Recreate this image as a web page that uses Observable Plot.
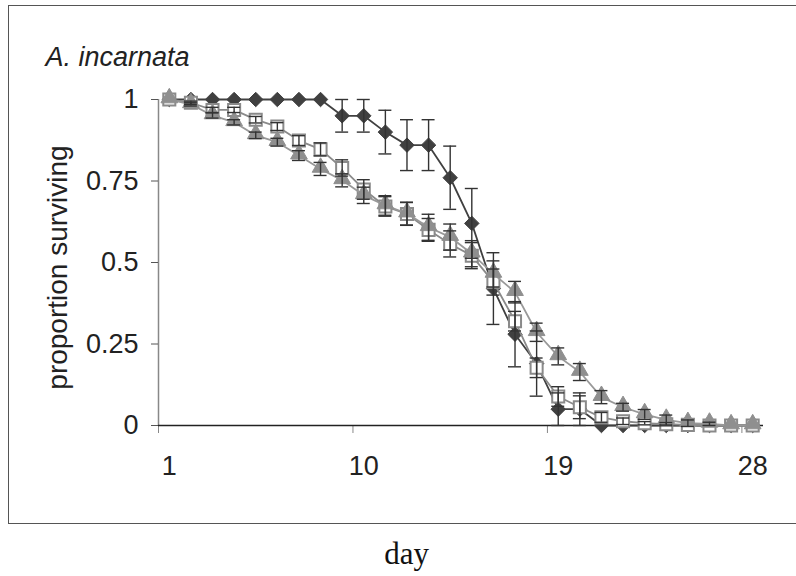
<!DOCTYPE html>
<html>
<head>
<meta charset="utf-8">
<script src="https://cdn.jsdelivr.net/npm/d3@7"></script>
<script src="https://cdn.jsdelivr.net/npm/@observablehq/plot@0.6"></script>
<style>
  html, body { margin: 0; padding: 0; background: #fff; overflow: hidden; }
  #wrap { position: relative; width: 796px; height: 576px; overflow: hidden; }
  #frame { position: absolute; left: 8px; top: 5px; width: 820px; height: 519px;
           border: 1.5px solid #555; border-right: none; box-sizing: border-box; }
  #chart { position: absolute; left: 0; top: 0; }
</style>
</head>
<body>
<div id="wrap"><div id="frame"></div><div id="chart"></div></div>
<script>
// ---- data ----
const days = [1,2,3,4,5,6,7,8,9,10,11,12,13,14,15,16,17,18,19,20,21,22,23,24,25,26,27,28];

// series 1: dark diamonds
const survDiamond = [1,1,1,1,1,1,1,1,0.95,0.95,0.90,0.86,0.86,0.76,0.62,0.42,0.28,0.19,0.05,0.05,0,0,0,0,0,0,0,0];
const errDiamond  = [0,0,0,0,0,0,0,0,0.05,0.05,0.067,0.078,0.078,0.097,0.107,0.11,0.10,0.10,0.05,0.05,0,0,0,0,0,0,0,0];

// series 2: open squares
const survSquare = [1,0.99,0.968,0.968,0.938,0.917,0.874,0.847,0.79,0.724,0.672,0.649,0.60,0.557,0.521,0.44,0.32,0.177,0.089,0.056,0.025,0.013,0.007,0.004,0.002,0,0,0];
const errSquare  = [0,0.005,0.008,0.008,0.01,0.012,0.015,0.02,0.025,0.03,0.03,0.035,0.035,0.04,0.04,0.04,0.03,0.03,0.03,0.035,0.015,0.01,0.005,0.005,0,0,0,0];

// series 3: grey triangles
const survTriangle = [1,0.985,0.951,0.93,0.89,0.869,0.828,0.787,0.752,0.706,0.675,0.65,0.608,0.578,0.527,0.465,0.409,0.286,0.212,0.164,0.087,0.056,0.034,0.017,0.007,0.005,0,0];
const errTriangle  = [0,0.005,0.008,0.008,0.01,0.012,0.015,0.02,0.02,0.025,0.03,0.035,0.04,0.04,0.04,0.04,0.033,0.028,0.026,0.026,0.02,0.012,0.015,0.015,0.01,0.005,0,0];

const yTicks = [0, 0.25, 0.5, 0.75, 1];
const yTickLabels = ["0", "0.25", "0.5", "0.75", "1"];
const xTickDays = [1, 10, 19, 28];
const titleText = "A. incarnata";
const yLabelText = "proportion surviving";
const xLabelText = "day";

// ---- build tables ----
const mk = (vals, errs) => days.map((d, i) => ({day: d, v: vals[i], e: errs[i]}));
const dA = mk(survDiamond, errDiamond);
const dB = mk(survSquare, errSquare);
const dC = mk(survTriangle, errTriangle);
const errAll = [...dA, ...dB, ...dC].filter(d => d.e > 0);
const xBounds = xTickDays.map(d => d - 0.5);

const font = "'Liberation Sans', Arial, sans-serif";

const chart = Plot.plot({
  width: 796,
  height: 576,
  marginLeft: 158,
  marginRight: 33,
  marginTop: 99,
  marginBottom: 151,
  style: {fontFamily: font, fontSize: "27px", background: "transparent", overflow: "visible", color: "#222"},
  x: {type: "linear", domain: [0.5, 28.5]},
  y: {domain: [0, 1]},
  marks: [
    // axes
    Plot.ruleX([0.5], {y1: 0, y2: 1, stroke: "#888", strokeWidth: 1.5}),
    Plot.axisY({ticks: yTicks, tickFormat: d => yTickLabels[yTicks.indexOf(d)], tickSize: 7, tickPadding: 13,
                label: null, stroke: "#555", fill: "#222", fontSize: 27}),
    Plot.axisX({ticks: xBounds, tickFormat: () => "", tickSize: 8, label: null, stroke: "#888"}),
    Plot.axisX({ticks: xTickDays, tickSize: 0, tickPadding: 30, label: null, fill: "#222", fontSize: 27}),
    Plot.ruleY([0], {x1: 0.5, x2: 28.5, stroke: "#222", strokeWidth: 1.3}),

    // series 1
    Plot.line(dA, {x: "day", y: "v", stroke: "#404040", strokeWidth: 1.8}),
    Plot.dot(dA, {x: "day", y: "v", symbol: "diamond2", r: 6.5, fill: "#404040", stroke: "#404040", strokeWidth: 1}),
    // series 2
    Plot.line(dB, {x: "day", y: "v", stroke: "#8a8a8a", strokeWidth: 1.8}),
    Plot.dot(dB, {x: "day", y: "v", symbol: "square", r: 6.8, fill: "white", stroke: "#8a8a8a", strokeWidth: 2}),
    // series 3
    Plot.line(dC, {x: "day", y: "v", stroke: "#999", strokeWidth: 1.8}),
    Plot.dot(dC, {x: "day", y: "v", symbol: "triangle", r: 6.2, dy: -1.5, fill: "#8f8f8f", stroke: "#8f8f8f", strokeWidth: 1}),

    // error bars
    Plot.ruleX(errAll, {x: "day", y1: d => d.v - d.e, y2: d => d.v + d.e, stroke: "#333", strokeWidth: 1.4}),
    Plot.ruleY(errAll, {y: d => d.v + d.e, x1: d => d.day - 0.3, x2: d => d.day + 0.3, stroke: "#333", strokeWidth: 1.4}),
    Plot.ruleY(errAll, {y: d => d.v - d.e, x1: d => d.day - 0.3, x2: d => d.day + 0.3, stroke: "#333", strokeWidth: 1.4}),

    // texts
    Plot.text([titleText], {frameAnchor: "top-left", dx: 45 - 158, dy: 65 - 99, textAnchor: "start",
                            lineAnchor: "bottom", fontStyle: "italic", fontSize: 27, fill: "#222"}),
    Plot.text([yLabelText], {frameAnchor: "left", dx: -100, dy: 5, rotate: -90, textAnchor: "middle",
                             lineAnchor: "middle", fontSize: 28, fill: "#222"}),
    Plot.text([xLabelText], {frameAnchor: "bottom", dx: 406 - 460.5, dy: 138, textAnchor: "middle",
                             lineAnchor: "bottom", fontSize: 31, fill: "#111",
                             fontFamily: "'Liberation Serif', 'Times New Roman', serif"})
  ]
});
document.getElementById("chart").appendChild(chart);
</script>
</body>
</html>
